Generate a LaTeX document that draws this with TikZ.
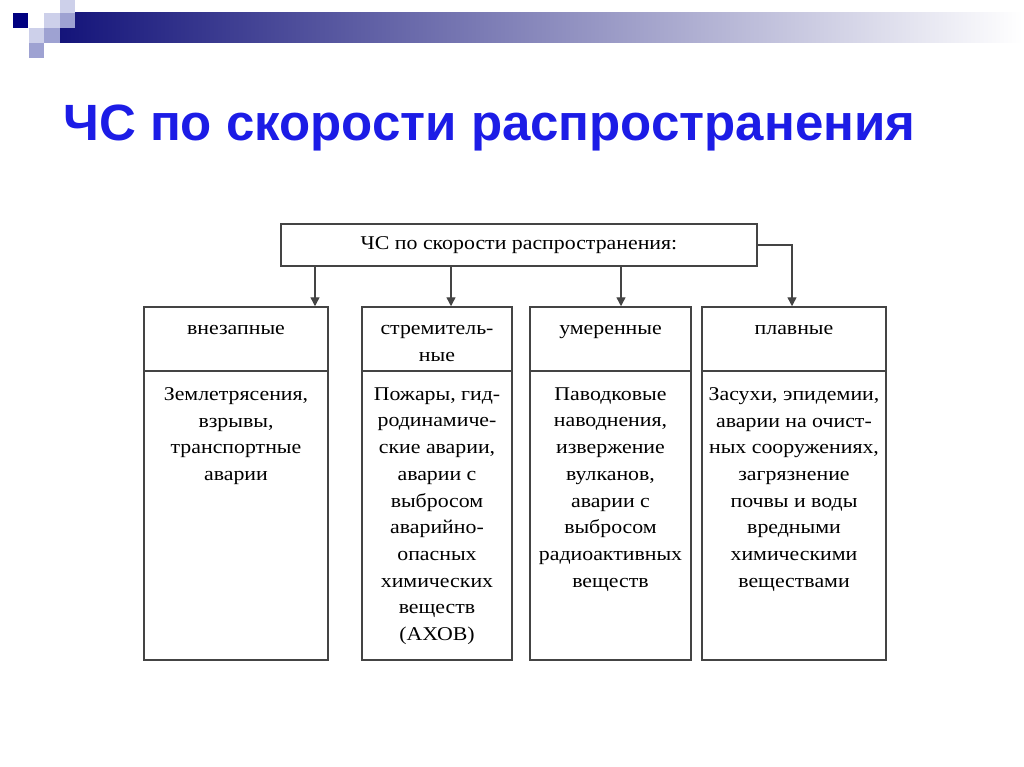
\documentclass[tikz,border=0pt]{standalone}
\usepackage{fontspec}
\setmainfont{Liberation Serif}
\newfontfamily\titlefont{Liberation Sans}
\newfontfamily\bodyfont[FakeStretch=1.12]{Liberation Serif}
\usetikzlibrary{arrows.meta,positioning}

\definecolor{slidenavy}{HTML}{14147A}
\definecolor{slidegray}{HTML}{A4A5BC}
\definecolor{sqdark}{HTML}{000080}
\definecolor{sqlight}{HTML}{CDD0EA}
\definecolor{sqmid}{HTML}{9EA2D2}
\definecolor{titleblue}{HTML}{1C1CE6}
\definecolor{framegray}{HTML}{444444}

\tikzset{
  frame/.style={draw=framegray, line width=1.5pt, inner sep=0pt},
  hdr/.style={frame, minimum height=64pt},
  bodybox/.style={frame, minimum height=289pt},
  txt/.style={align=center, inner sep=0pt, font=\bodyfont\fontsize{19.5}{26.7}\selectfont},
  arr/.style={draw=framegray, line width=1.4pt, -{Triangle[width=9pt,length=9pt]}}
}

\begin{document}
\begin{tikzpicture}[x=1pt,y=-1pt]
\useasboundingbox (0,0) rectangle (1024,767);

% slide decoration
\shade[left color=slidenavy, middle color=slidegray, right color=white] (60,13) rectangle (1022,43);
\fill[sqlight] (60,0) rectangle (75,13);
\fill[sqdark] (13,13) rectangle (28,28);
\fill[sqlight] (44,13) rectangle (60,28);
\fill[sqmid] (60,13) rectangle (75,28);
\fill[sqlight] (29,28) rectangle (44,43);
\fill[sqmid] (44,28) rectangle (60,43);
\fill[sqmid] (29,43) rectangle (44,58);

\node[anchor=base west, inner sep=0pt, text=titleblue,
  font=\titlefont\bfseries\fontsize{51}{51}\selectfont] (title) at (63,141)
  {ЧС по скорости распространения};

% root
\node[frame, minimum width=476pt, minimum height=42pt, txt] (root) at (519,245)
  {ЧС по скорости распространения:};

% columns
\node[hdr, minimum width=184pt] (h1) at (236,339) {};
\node[bodybox, minimum width=184pt] (b1) at (236,515.5) {};
\node[hdr, minimum width=150pt] (h2) at (437,339) {};
\node[bodybox, minimum width=150pt] (b2) at (437,515.5) {};
\node[hdr, minimum width=161pt] (h3) at (610.5,339) {};
\node[bodybox, minimum width=161pt] (b3) at (610.5,515.5) {};
\node[hdr, minimum width=184pt] (h4) at (794,339) {};
\node[bodybox, minimum width=184pt] (b4) at (794,515.5) {};

\node[txt, below=19pt of h1.north] (l1) {внезапные};
\node[txt, below=19pt of h2.north] (l2) {стремитель-\\ные};
\node[txt, below=19pt of h3.north] (l3) {умеренные};
\node[txt, below=19pt of h4.north] (l4) {плавные};

\node[txt, below=17pt of b1.north] (t1)
  {Землетрясения,\\взрывы,\\транспортные\\аварии};
\node[txt, below=17pt of b2.north] (t2)
  {Пожары, гид-\\родинамиче-\\ские аварии,\\аварии с\\выбросом\\аварийно-\\опасных\\химических\\веществ\\(АХОВ)};
\node[txt, below=17pt of b3.north] (t3)
  {Паводковые\\наводнения,\\извержение\\вулканов,\\аварии с\\выбросом\\радиоактивных\\веществ};
\node[txt, below=17pt of b4.north] (t4)
  {Засухи, эпидемии,\\аварии на очист-\\ных сооружениях,\\загрязнение\\почвы и воды\\вредными\\химическими\\веществами};

% connectors
\coordinate (a1) at (315,0);
\coordinate (a2) at (451,0);
\coordinate (a3) at (621,0);
\coordinate (a4) at (792,0);
\draw[arr] (root.south -| a1) -- (h1.north -| a1);
\draw[arr] (root.south -| a2) -- (h2.north -| a2);
\draw[arr] (root.south -| a3) -- (h3.north -| a3);
\draw[arr] (root.east) -| (h4.north -| a4);
\end{tikzpicture}
\end{document}
